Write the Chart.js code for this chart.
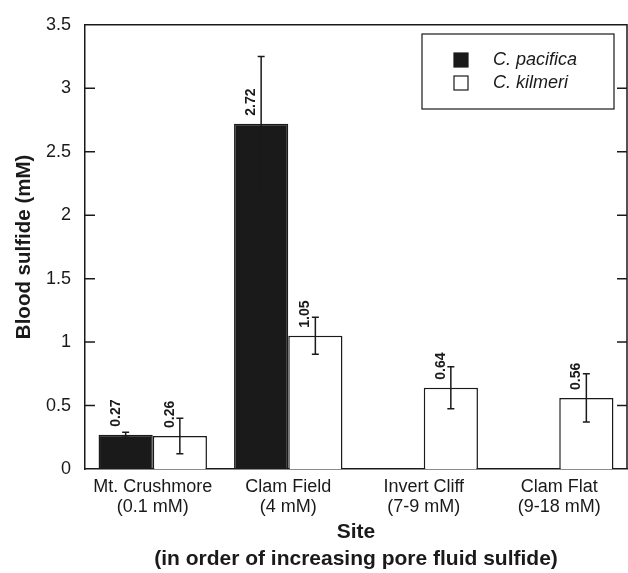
<!DOCTYPE html>
<html>
<head>
<meta charset="utf-8">
<script src="https://cdn.jsdelivr.net/npm/chart.js@4.4.1/dist/chart.umd.min.js"></script>
<style>
    html, body { margin: 0; padding: 0; background: #fff; }
    #myChart { display: block; }
</style>
</head>
<body>
<canvas id="myChart" width="628" height="573"></canvas>
<script>
// values
const sites = [['Mt. Crushmore', '(0.1 mM)'], ['Clam Field', '(4 mM)'], ['Invert Cliff', '(7-9 mM)'], ['Clam Flat', '(9-18 mM)']];
const pacifica = [0.27, 2.72, null, null];
const pacificaErr = [0.02, 0.53, null, null];
const kilmeri = [0.26, 1.05, 0.64, 0.56];
const kilmeriErr = [0.14, 0.145, 0.165, 0.19];
const valueLabels = [['0.27', '2.72', '', ''], ['0.26', '1.05', '0.64', '0.56']];
const yTickLabels = ['0', '0.5', '1', '1.5', '2', '2.5', '3', '3.5'];
const errors = [pacificaErr, kilmeriErr];

const FONT = '"Liberation Sans", Arial, Helvetica, sans-serif';
const INK = '#1a1a1a';

// error bars, centred on each bar
const errorBars = {
    id: 'errorBars',
    afterDatasetsDraw(chart) {
        const ctx = chart.ctx;
        const y = chart.scales.y;
        ctx.save();
        ctx.strokeStyle = INK;
        ctx.lineWidth = 1.5;
        chart.data.datasets.forEach((ds, i) => {
            chart.getDatasetMeta(i).data.forEach((bar, j) => {
                const v = ds.data[j];
                const e = errors[i][j];
                if (v == null || e == null) return;
                const top = y.getPixelForValue(v + e);
                const bot = y.getPixelForValue(v - e);
                ctx.beginPath();
                ctx.moveTo(bar.x, top);
                ctx.lineTo(bar.x, bot);
                ctx.moveTo(bar.x - 3.5, top);
                ctx.lineTo(bar.x + 3.5, top);
                ctx.moveTo(bar.x - 3.5, bot);
                ctx.lineTo(bar.x + 3.5, bot);
                ctx.stroke();
            });
        });
        ctx.restore();
    }
};

// rotated value labels above the bars
const barValues = {
    id: 'barValues',
    afterDatasetsDraw(chart) {
        const ctx = chart.ctx;
        ctx.save();
        ctx.fillStyle = INK;
        ctx.font = 'bold 14px ' + FONT;
        ctx.textAlign = 'left';
        ctx.textBaseline = 'middle';
        chart.data.datasets.forEach((ds, i) => {
            chart.getDatasetMeta(i).data.forEach((bar, j) => {
                const txt = valueLabels[i][j];
                if (!txt) return;
                ctx.save();
                ctx.translate(bar.x - 10, bar.y - 8);
                ctx.rotate(-Math.PI / 2);
                ctx.fillText(txt, 0, 0);
                ctx.restore();
            });
        });
        ctx.restore();
    }
};

// box frame with inward ticks, plus the boxed legend
const frame = {
    id: 'frame',
    afterDraw(chart) {
        const ctx = chart.ctx;
        const a = chart.chartArea;
        const y = chart.scales.y;
        ctx.save();
        ctx.strokeStyle = INK;
        ctx.lineWidth = 1.5;
        ctx.beginPath();
        ctx.moveTo(a.left, a.top);
        ctx.lineTo(a.right, a.top);
        ctx.lineTo(a.right, a.bottom);
        y.ticks.forEach(t => {
            const py = y.getPixelForValue(t.value);
            if (t.value <= 0 || t.value >= 3.5) return;
            ctx.moveTo(a.left, py);
            ctx.lineTo(a.left + 10, py);
            ctx.moveTo(a.right, py);
            ctx.lineTo(a.right - 10, py);
        });
        ctx.stroke();

        // legend
        ctx.lineWidth = 1.2;
        ctx.strokeRect(422, 34, 192, 75);
        ctx.font = 'italic 18px ' + FONT;
        ctx.textBaseline = 'middle';
        ctx.textAlign = 'left';
        chart.data.datasets.forEach((ds, i) => {
            const cy = 60 + i * 23;
            ctx.fillStyle = ds.backgroundColor;
            ctx.fillRect(454, cy - 7, 14, 14);
            ctx.strokeStyle = INK;
            ctx.strokeRect(454, cy - 7, 14, 14);
            ctx.fillStyle = INK;
            ctx.fillText(ds.label, 493, cy);
        });
        ctx.restore();
    }
};

const ctx = document.getElementById('myChart').getContext('2d');
const myChart = new Chart(ctx, {
    type: 'bar',
    data: {
        labels: sites,
        datasets: [{
                label: 'C. pacifica',
                data: pacifica,
                backgroundColor: INK,
                borderColor: INK,
                borderWidth: 1.5
            }, {
                label: 'C. kilmeri',
                data: kilmeri,
                backgroundColor: '#ffffff',
                borderColor: INK,
                borderWidth: 1.5
            }]
    },
    options: {
        responsive: false,
        animation: false,
        devicePixelRatio: 1,
        categoryPercentage: 0.8,
        barPercentage: 1,
        layout: {
            padding: { top: 14, right: 1, left: 0, bottom: 0 }
        },
        plugins: {
            legend: { display: false },
            tooltip: { enabled: false }
        },
        scales: {
            x: {
                grid: { display: false, drawTicks: false },
                border: { display: true, color: INK, width: 1.5 },
                ticks: {
                    color: INK,
                    font: { family: FONT, size: 18, lineHeight: 1.1 },
                    padding: 8,
                    maxRotation: 0,
                    autoSkip: false
                },
                title: {
                    display: true,
                    text: ['Site', '(in order of increasing pore fluid sulfide)'],
                    color: INK,
                    font: { family: FONT, size: 21, weight: 'bold', lineHeight: 1.3 },
                    padding: { top: 0, bottom: 0 }
                },
                afterFit(scale) {
                    scale.height = 104;
                }
            },
            y: {
                min: 0,
                max: 3.5,
                grid: { display: false, drawTicks: false },
                border: { display: true, color: INK, width: 1.5 },
                ticks: {
                    stepSize: 0.5,
                    color: INK,
                    font: { family: FONT, size: 18 },
                    padding: 14,
                    callback: (v, i) => yTickLabels[i]
                },
                title: {
                    display: true,
                    text: 'Blood sulfide (mM)',
                    color: INK,
                    font: { family: FONT, size: 20.5, weight: 'bold' },
                    padding: { top: 12, bottom: 0 }
                },
                afterFit(scale) {
                    scale.width = 85;
                }
            }
        }
    },
    plugins: [errorBars, barValues, frame]
});
</script>
</body>
</html>
